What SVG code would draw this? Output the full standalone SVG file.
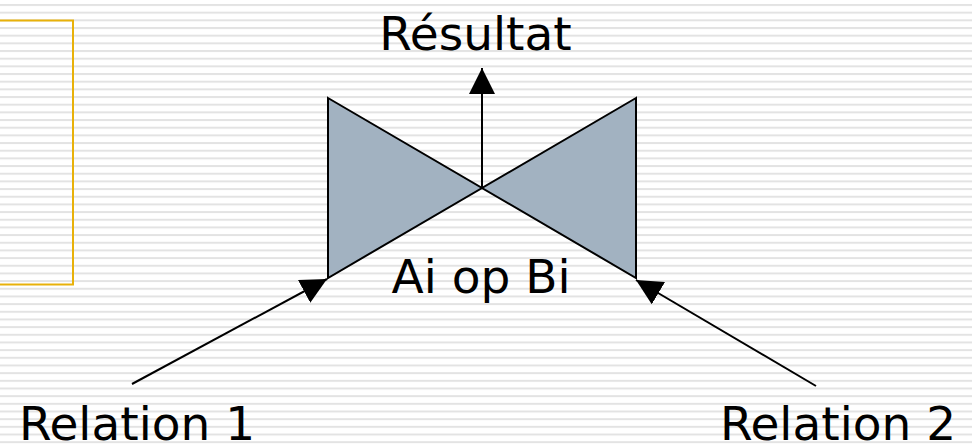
<svg xmlns="http://www.w3.org/2000/svg" width="972" height="446" viewBox="0 0 972 446">
  <style>
    .lbl { font-family: "DejaVu Sans", Verdana, sans-serif; font-size: 47px; fill: #000; text-anchor: middle; }
    .tri { fill: #a2b2c1; stroke: #000; stroke-width: 2; stroke-linejoin: miter; }
    .arr { stroke: #000; stroke-width: 2; fill: none; marker-end: url(#ah); }
  </style>
  <defs>
    <pattern id="stripes" x="0" y="4" width="20" height="7.67" patternUnits="userSpaceOnUse">
      <rect x="0" y="0" width="20" height="2" fill="#e3e3e3"/>
    </pattern>
    <marker id="ah" markerUnits="userSpaceOnUse" markerWidth="26" markerHeight="26" refX="26" refY="13" orient="auto" viewBox="0 0 26 26">
      <path d="M0,0 L26,13 L0,26 z" fill="#000"/>
    </marker>
  </defs>
  <rect width="972" height="446" fill="#fff"/>
  <rect width="972" height="446" fill="url(#stripes)"/>
  <g id="frame">
    <rect x="-10" y="20.5" width="83" height="264" fill="none" stroke="#e8b10a" stroke-width="2"/>
  </g>
  <g id="operator">
    <polygon class="tri" points="328,98 482,188 328,278"/>
    <polygon class="tri" points="636,98 482,188 636,278"/>
    <text class="lbl" x="481" y="293">Ai op Bi</text>
  </g>
  <g id="result">
    <text class="lbl" x="475.5" y="50">Résultat</text>
  </g>
  <g id="relation1">
    <text class="lbl" x="137" y="440">Relation 1</text>
  </g>
  <g id="relation2">
    <text class="lbl" x="838" y="440">Relation 2</text>
  </g>
  <g id="connectors">
    <line class="arr" x1="482" y1="188" x2="482" y2="68"/>
    <line class="arr" x1="132" y1="384" x2="327" y2="279"/>
    <line class="arr" x1="816" y1="386" x2="636" y2="280"/>
  </g>
</svg>
